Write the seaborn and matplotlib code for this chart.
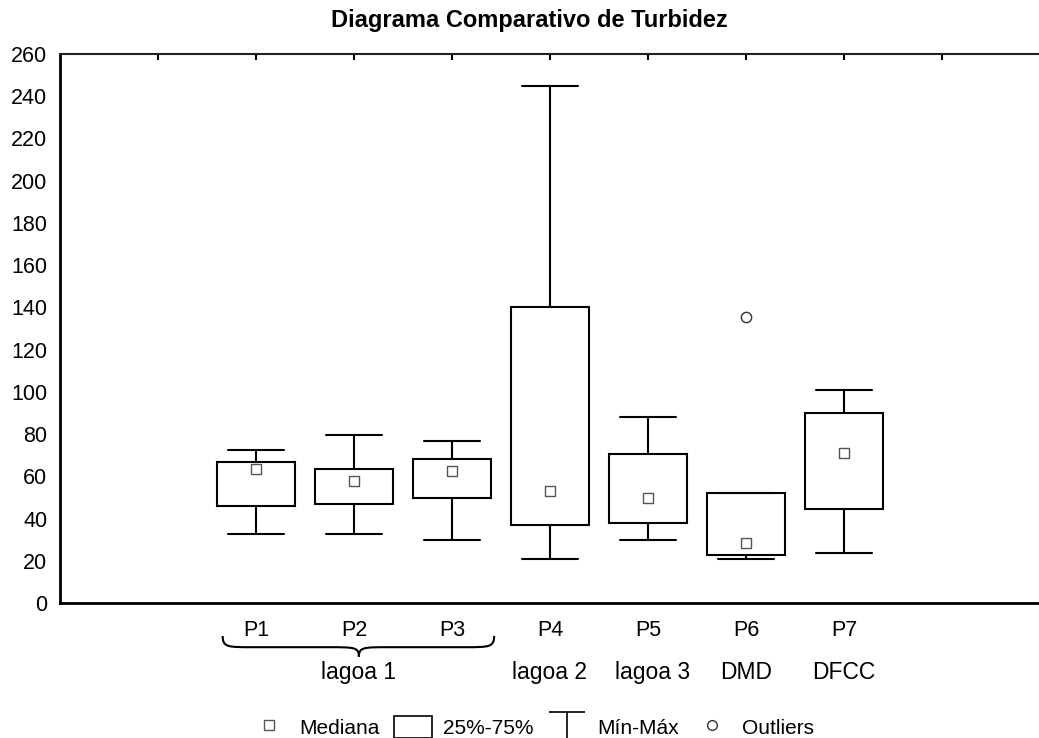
import numpy as np
import pandas as pd
import matplotlib
matplotlib.use("Agg")
import matplotlib.pyplot as plt
import matplotlib.transforms as mtransforms
from matplotlib.path import Path
from matplotlib.patches import PathPatch, Patch
from matplotlib.lines import Line2D
import seaborn as sns

# Dados (turbidez)
pontos = ["P1", "P2", "P3", "P4", "P5", "P6", "P7"]
posicoes = [2, 3, 4, 5, 6, 7, 8]
minimos = [32.7, 32.7, 29.7, 20.8, 29.8, 20.8, 23.8]
q1 = [45.8, 46.7, 49.6, 37.0, 38.0, 22.6, 44.4]
medianas = [63.5, 57.9, 62.7, 53.0, 49.7, 28.6, 71.2]
q3 = [66.6, 63.6, 68.0, 140.0, 70.8, 52.1, 90.1]
maximos = [72.5, 79.7, 76.6, 244.8, 88.0, 52.1, 100.9]
outliers_x = [7]
outliers_y = [135.5]
grupos = ["lagoa 1", "lagoa 2", "lagoa 3", "DMD", "DFCC"]
grupos_x = [3.05, 5, 6.05, 7, 8]

# tabela longa: 5 valores por ponto -> quartis exatos com whis=(0, 100)
linhas = []
for p, a, b, c, d, e in zip(posicoes, minimos, q1, medianas, q3, maximos):
    for v in (a, b, c, d, e):
        linhas.append({"pos": p, "valor": v})
df = pd.DataFrame(linhas)

sns.set_style("white")
plt.rcParams["font.family"] = ["Liberation Sans", "DejaVu Sans"]
plt.rcParams["text.color"] = "black"
plt.rcParams["xtick.color"] = "black"
plt.rcParams["ytick.color"] = "black"

fig = plt.figure(figsize=(10.39, 7.38), dpi=100)
ax = fig.add_axes([60 / 1039, 1 - 603 / 738, 980 / 1039, 549 / 738])

sns.boxplot(data=df, x="pos", y="valor", native_scale=True, whis=(0, 100),
            width=0.8, color="white", linecolor="black", linewidth=1.5,
            saturation=1, capwidths=0.58, showfliers=False,
            medianprops={"visible": False}, ax=ax)

sns.scatterplot(x=posicoes, y=medianas, marker="s", s=50, color="white",
                edgecolor="#555555", linewidth=1, zorder=5, ax=ax)
sns.scatterplot(x=outliers_x, y=outliers_y, marker="o", s=55, color="white",
                edgecolor="#333333", linewidth=1, zorder=5, ax=ax)

ax.set_xlim(0, 10)
ax.set_ylim(0, 260)
ax.set_yticks(np.arange(0, 261, 20))
ax.set_xticks(range(1, 10))
ax.set_xticklabels([""] + pontos + [""])
ax.set_xlabel("")
ax.set_ylabel("")

ax.tick_params(axis="both", direction="in", length=4, width=1.5, colors="black",
               labelsize=15.5, labelcolor="black", top=True)
ax.tick_params(axis="x", pad=12)
ax.tick_params(axis="y", pad=9)

for lado in ["left", "bottom"]:
    ax.spines[lado].set_linewidth(2)
    ax.spines[lado].set_color("black")
ax.spines["top"].set_linewidth(1.5)
ax.spines["top"].set_color("#222222")
ax.spines["right"].set_visible(False)

# rótulos dos grupos
trans = mtransforms.blended_transform_factory(ax.transData, ax.transAxes)
for g, gx in zip(grupos, grupos_x):
    ax.text(gx, -0.1275, g, transform=trans, ha="center", va="center",
            fontsize=16.5, color="black")

# chave sob P1-P3
x0, x1, xc = 1.66, 4.43, 3.05
yt, ym, yp = -0.06, -0.0805, -0.0975
d = 0.3
verts = [(x0, yt), (x0, ym), (x0 + 0.05, ym), (x0 + d, ym),
         (xc - d, ym),
         (xc - 0.05, ym), (xc, ym), (xc, yp),
         (xc, ym), (xc + 0.05, ym), (xc + d, ym),
         (x1 - d, ym),
         (x1 - 0.05, ym), (x1, ym), (x1, yt)]
codes = [Path.MOVETO, Path.CURVE4, Path.CURVE4, Path.CURVE4,
         Path.LINETO,
         Path.CURVE4, Path.CURVE4, Path.CURVE4,
         Path.CURVE4, Path.CURVE4, Path.CURVE4,
         Path.LINETO,
         Path.CURVE4, Path.CURVE4, Path.CURVE4]
ax.add_patch(PathPatch(Path(verts, codes), transform=trans, fill=False,
                       lw=1.5, edgecolor="black", clip_on=False))

fig.text(529 / 1039, 1 - 20 / 738, "Diagrama Comparativo de Turbidez",
         ha="center", va="center", fontsize=17, fontweight="bold", color="black")

# legenda
t_marker = Path([(-18.5, 13), (18.5, 13), (0, 13), (0, -13)],
                [Path.MOVETO, Path.LINETO, Path.MOVETO, Path.LINETO])
handles = [
    Line2D([], [], marker="s", ls="none", mfc="white", mec="#555555", mew=1, ms=7),
    Patch(facecolor="white", edgecolor="black", lw=1.2),
    Line2D([], [], marker=t_marker, ls="none", mfc="none", mec="black", mew=1.2, ms=26.6),
    Line2D([], [], marker="o", ls="none", mfc="white", mec="#333333", mew=1, ms=7),
]
labels = ["Mediana", "25%-75%", "Mín-Máx", "Outliers"]
leg = fig.legend(handles, labels, loc="center", bbox_to_anchor=(532 / 1039, 1 - 727 / 738),
                 ncol=4, frameon=False, fontsize=15, handlelength=1.85, handleheight=1.25,
                 handletextpad=0.5, columnspacing=0.7, borderaxespad=0, borderpad=0)
for t in leg.get_texts():
    t.set_color("black")

fig.savefig("out.png", dpi=100)
